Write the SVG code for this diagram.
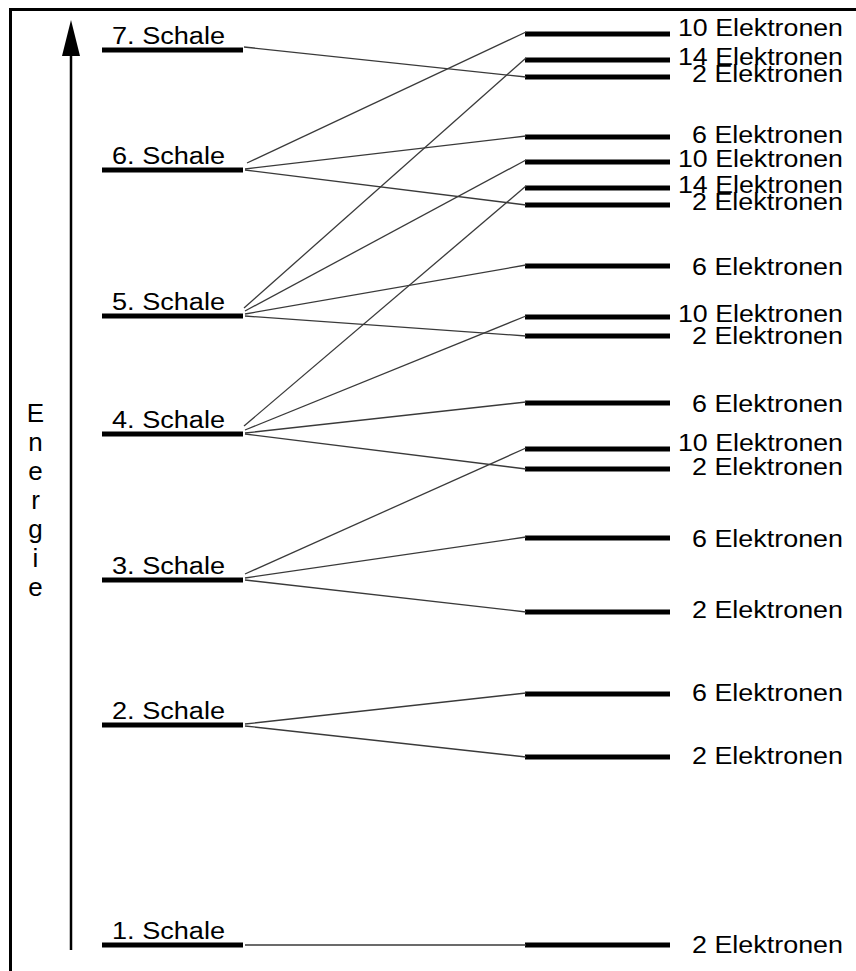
<svg xmlns="http://www.w3.org/2000/svg" width="856" height="971" viewBox="0 0 856 971">
<style>
text{font-family:"Liberation Sans",Arial,sans-serif;font-size:23px;fill:#000}
.en{font-size:26px;text-anchor:middle}
.bar{stroke:#000;stroke-width:5;fill:none}
.con line{stroke:#3a3a3a;stroke-width:1.3}
.frame{stroke:#000;stroke-width:3;fill:none}
</style>
<rect width="856" height="971" fill="#fff"/>
<path class="frame" d="M10.5,971 V9.5 H856"/>
<g id="axis">
<line x1="71" y1="50" x2="71" y2="950" stroke="#000" stroke-width="2.5"/>
<polygon points="71,20 62,56 80,56" fill="#000"/>
<text class="en" x="35.5" y="422">E</text>
<text class="en" x="35.5" y="451">n</text>
<text class="en" x="35.5" y="480">e</text>
<text class="en" x="35.5" y="509">r</text>
<text class="en" x="35.5" y="538">g</text>
<text class="en" x="35.5" y="567">i</text>
<text class="en" x="35.5" y="596">e</text>
</g>
<g id="schale7"><line class="bar" x1="102" y1="50" x2="243" y2="50"/><text x="112" y="44" textLength="113" lengthAdjust="spacingAndGlyphs">7. Schale</text></g>
<g id="schale6"><line class="bar" x1="102" y1="170" x2="243" y2="170"/><text x="112" y="164" textLength="113" lengthAdjust="spacingAndGlyphs">6. Schale</text></g>
<g id="schale5"><line class="bar" x1="102" y1="316" x2="243" y2="316"/><text x="112" y="310" textLength="113" lengthAdjust="spacingAndGlyphs">5. Schale</text></g>
<g id="schale4"><line class="bar" x1="102" y1="434" x2="243" y2="434"/><text x="112" y="428" textLength="113" lengthAdjust="spacingAndGlyphs">4. Schale</text></g>
<g id="schale3"><line class="bar" x1="102" y1="580" x2="243" y2="580"/><text x="112" y="574" textLength="113" lengthAdjust="spacingAndGlyphs">3. Schale</text></g>
<g id="schale2"><line class="bar" x1="102" y1="725" x2="243" y2="725"/><text x="112" y="719" textLength="113" lengthAdjust="spacingAndGlyphs">2. Schale</text></g>
<g id="schale1"><line class="bar" x1="102" y1="945" x2="243" y2="945"/><text x="112" y="939" textLength="113" lengthAdjust="spacingAndGlyphs">1. Schale</text></g>

<g id="l6d"><line class="bar" x1="525" y1="34" x2="670" y2="34"/><text x="678" y="36" textLength="165" lengthAdjust="spacingAndGlyphs">10 Elektronen</text></g>
<g id="l5f"><line class="bar" x1="525" y1="60" x2="670" y2="60"/><text x="678" y="65" textLength="165" lengthAdjust="spacingAndGlyphs">14 Elektronen</text></g>
<g id="l7s"><line class="bar" x1="525" y1="77" x2="670" y2="77"/><text x="692" y="82" textLength="151" lengthAdjust="spacingAndGlyphs">2 Elektronen</text></g>
<g id="l6p"><line class="bar" x1="525" y1="137" x2="670" y2="137"/><text x="692" y="143" textLength="151" lengthAdjust="spacingAndGlyphs">6 Elektronen</text></g>
<g id="l5d"><line class="bar" x1="525" y1="162" x2="670" y2="162"/><text x="678" y="167" textLength="165" lengthAdjust="spacingAndGlyphs">10 Elektronen</text></g>
<g id="l4f"><line class="bar" x1="525" y1="188" x2="670" y2="188"/><text x="678" y="193" textLength="165" lengthAdjust="spacingAndGlyphs">14 Elektronen</text></g>
<g id="l6s"><line class="bar" x1="525" y1="205" x2="670" y2="205"/><text x="692" y="210" textLength="151" lengthAdjust="spacingAndGlyphs">2 Elektronen</text></g>
<g id="l5p"><line class="bar" x1="525" y1="266" x2="670" y2="266"/><text x="692" y="275" textLength="151" lengthAdjust="spacingAndGlyphs">6 Elektronen</text></g>
<g id="l4d"><line class="bar" x1="525" y1="317" x2="670" y2="317"/><text x="678" y="322" textLength="165" lengthAdjust="spacingAndGlyphs">10 Elektronen</text></g>
<g id="l5s"><line class="bar" x1="525" y1="336" x2="670" y2="336"/><text x="692" y="344" textLength="151" lengthAdjust="spacingAndGlyphs">2 Elektronen</text></g>
<g id="l4p"><line class="bar" x1="525" y1="403" x2="670" y2="403"/><text x="692" y="412" textLength="151" lengthAdjust="spacingAndGlyphs">6 Elektronen</text></g>
<g id="l3d"><line class="bar" x1="525" y1="449" x2="670" y2="449"/><text x="678" y="451" textLength="165" lengthAdjust="spacingAndGlyphs">10 Elektronen</text></g>
<g id="l4s"><line class="bar" x1="525" y1="469" x2="670" y2="469"/><text x="692" y="475" textLength="151" lengthAdjust="spacingAndGlyphs">2 Elektronen</text></g>
<g id="l3p"><line class="bar" x1="525" y1="538" x2="670" y2="538"/><text x="692" y="547" textLength="151" lengthAdjust="spacingAndGlyphs">6 Elektronen</text></g>
<g id="l3s"><line class="bar" x1="525" y1="612" x2="670" y2="612"/><text x="692" y="618" textLength="151" lengthAdjust="spacingAndGlyphs">2 Elektronen</text></g>
<g id="l2p"><line class="bar" x1="525" y1="694" x2="670" y2="694"/><text x="692" y="701" textLength="151" lengthAdjust="spacingAndGlyphs">6 Elektronen</text></g>
<g id="l2s"><line class="bar" x1="525" y1="757" x2="670" y2="757"/><text x="692" y="764" textLength="151" lengthAdjust="spacingAndGlyphs">2 Elektronen</text></g>
<g id="l1s"><line class="bar" x1="525" y1="945" x2="670" y2="945"/><text x="692" y="953" textLength="151" lengthAdjust="spacingAndGlyphs">2 Elektronen</text></g>

<g id="connectors" class="con">
<line x1="244" y1="47" x2="526" y2="77"/>
<line x1="247" y1="163" x2="526" y2="32"/>
<line x1="245" y1="169" x2="526" y2="136"/>
<line x1="245" y1="170" x2="526" y2="205"/>
<line x1="244" y1="308" x2="526" y2="58"/>
<line x1="245" y1="311" x2="526" y2="160"/>
<line x1="245" y1="314" x2="526" y2="265"/>
<line x1="245" y1="316" x2="526" y2="336"/>
<line x1="244" y1="426" x2="526" y2="186"/>
<line x1="245" y1="430" x2="526" y2="316"/>
<line x1="245" y1="433" x2="526" y2="402"/>
<line x1="245" y1="434" x2="526" y2="469"/>
<line x1="245" y1="574" x2="526" y2="448"/>
<line x1="245" y1="578" x2="526" y2="537"/>
<line x1="245" y1="580" x2="526" y2="612"/>
<line x1="245" y1="724" x2="526" y2="693"/>
<line x1="245" y1="726" x2="526" y2="757"/>
<line x1="245" y1="945" x2="526" y2="945"/>
</g>
</svg>
